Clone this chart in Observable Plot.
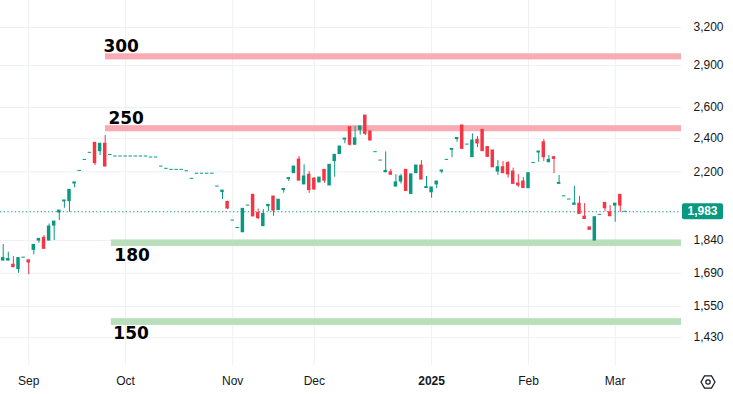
<!DOCTYPE html>
<html><head><meta charset="utf-8">
<script src="https://cdn.jsdelivr.net/npm/d3@7"></script>
<script src="https://cdn.jsdelivr.net/npm/@observablehq/plot@0.6"></script>
<style>
html,body{margin:0;padding:0;background:#fff;}
#chart{width:733px;height:394px;overflow:hidden;}
svg{display:block;}
</style></head><body><div id="chart"></div>
<script>
// ---- data (daily bars, indexed by trading-bar number) ----
const open = [1747,1747,1728,1709,1760,1748,1796,1840,1853,1840,
1913,1979,2037,2038,2134,2205,2269,2311,2372,2321,
2366,2298,2289,2289,2289,2289,2289,2289,2289,2283,
2283,2230,2217,2211,2211,2211,2203,2160,2189,2189,
2189,2189,2117,2087,2034,1938,1901,1880,2015,2072,
1976,1910,2012,2063,1992,2098,2159,2192,2271,2129,
2183,2161,2140,2211,2123,2262,2304,2392,2470,2360,
2453,2546,2443,2315,2265,2197,2197,2117,2145,2211,
2077,2192,2236,2109,2086,2129,2201,2269,2329,2395,
2481,2361,2285,2390,2453,2346,2325,2201,2226,2250,
2201,2134,2145,2108,2251,2313,2375,2255,2285,2132,
2064,2047,2019,2025,1958,1904,1840,1967,2029,1980,
2015,2072,1983];
const high = [1821,1785,1765,1760,1760,1749,1820,1848,1864,1921,
1933,1989,2042,2099,2140,2205,2269,2311,2372,2366,
2417,2298,2289,2289,2289,2289,2289,2289,2289,2283,
2283,2230,2217,2211,2211,2211,2203,2160,2189,2189,
2189,2189,2117,2095,2038,1938,1901,1998,2015,2072,
1997,1994,2019,2063,2046,2104,2164,2230,2289,2240,
2201,2167,2167,2211,2240,2299,2349,2398,2470,2475,
2475,2546,2443,2315,2265,2317,2213,2183,2185,2211,
2185,2236,2265,2173,2112,2145,2207,2269,2335,2402,
2481,2361,2428,2411,2453,2349,2325,2265,2259,2259,
2221,2185,2167,2192,2251,2319,2392,2295,2289,2179,
2064,2047,2119,2064,2025,1904,1955,1967,2029,2015,
2025,2072,1983];
const low = [1745,1745,1715,1690,1760,1684,1773,1827,1800,1838,
1840,1938,2001,1980,2110,2205,2269,2311,2236,2295,
2228,2298,2289,2289,2289,2289,2289,2289,2289,2283,
2283,2230,2217,2211,2211,2211,2203,2160,2189,2189,
2189,2189,2117,2047,1994,1938,1901,1880,2015,1959,
1943,1910,1984,1960,1992,2081,2145,2192,2150,2129,
2080,2098,2140,2135,2123,2169,2304,2366,2352,2360,
2420,2417,2386,2315,2265,2197,2183,2117,2131,2093,
2077,2192,2156,2109,2054,2106,2189,2269,2282,2375,
2335,2361,2285,2343,2321,2285,2226,2179,2192,2164,
2132,2112,2109,2108,2251,2255,2259,2255,2189,2132,
2064,2047,2019,1972,1946,1892,1840,1967,1984,1960,
1930,1980,1983];
const close = [1758,1754,1717,1758,1760,1738,1819,1848,1801,1908,
1933,1989,2042,2099,2140,2205,2269,2311,2250,2366,
2230,2298,2289,2289,2289,2289,2289,2289,2289,2283,
2283,2230,2217,2211,2211,2211,2203,2160,2189,2189,
2189,2189,2117,2095,2000,1938,1901,1998,2015,1959,
1950,1972,2019,1989,2046,2104,2164,2230,2150,2173,
2098,2101,2167,2150,2240,2299,2349,2398,2360,2400,
2475,2428,2386,2315,2265,2205,2183,2140,2173,2093,
2185,2236,2156,2114,2112,2145,2207,2269,2335,2402,
2335,2361,2386,2368,2321,2287,2226,2226,2192,2185,
2132,2123,2109,2192,2251,2319,2285,2269,2275,2137,
2064,2047,2026,1972,1946,1892,1955,1967,2001,1960,
2025,2015,1983];

const monthBars   = [5, 24, 45, 61, 84, 103, 120];
const monthLabels = ["Sep","Oct","Nov","Dec","2025","Feb","Mar"];
const priceTicks  = [1430,1550,1690,1840,2200,2400,2600,2900,3200];

const bandLabels = ["300","250","180","150"];
const bandLow    = [2942, 2441, 1812, 1476];
const bandHigh   = [2989, 2480, 1843, 1502];
const bandStart  = [20.05, 20.05, 21.2, 21.2];
const bandKind   = ["resistance","resistance","support","support"];

// ---- build ----
const UP = "#089981", DOWN = "#f23645";
const BAND = {resistance:"#f8abb3", support:"#b8dfb9"};
const X_MAX = 133.0;
const bars = close.map((c,i)=>({i, o:open[i], h:high[i], l:low[i], c, up:c>=open[i]}));
const bands = bandLabels.map((lab,k)=>({label:lab, low:bandLow[k], high:bandHigh[k], start:bandStart[k], kind:bandKind[k]}));
const last = close[close.length-1];
const fmt = d3.format(",");
const labelDx = {"300":-2, "250":3, "180":3, "150":2};

const labelMarks = bands.map(b => Plot.text([b], {
  x:"start", y: b.kind==="resistance" ? "high" : "low",
  text:"label", textAnchor:"start",
  lineAnchor: b.kind==="resistance" ? "bottom" : "top",
  dy: b.kind==="resistance" ? -2 : 2, dx: labelDx[b.label],
  fontSize:17, fontWeight:"bold", fontFamily:"'DejaVu Sans', sans-serif", fill:"#000"
}));

const plot = Plot.plot({
  width:733, height:394,
  marginLeft:0, marginRight:52, marginTop:0, marginBottom:29,
  style:{fontFamily:"'Liberation Sans', Arial, sans-serif", fontSize:"12px", color:"#131722", background:"#ffffff"},
  x:{type:"linear", domain:[-0.53, X_MAX], axis:null},
  y:{type:"log", domain:[1330, 3433], axis:null},
  marks:[
    Plot.gridX(monthBars, {stroke:"#eef0f5", strokeOpacity:1}),
    Plot.gridY(priceTicks, {stroke:"#eef0f5", strokeOpacity:1}),
    Plot.rect(bands.filter(b=>b.kind==="resistance"), {x1:"start", x2:()=>X_MAX, y1:"low", y2:"high", fill:BAND.resistance}),
    Plot.rect(bands.filter(b=>b.kind==="support"), {x1:"start", x2:()=>X_MAX, y1:"low", y2:"high", fill:BAND.support}),
    ...labelMarks,
    Plot.ruleY([last], {stroke:UP, strokeWidth:1, strokeDasharray:"1.3,2.4"}),
    Plot.ruleX(bars, {x:"i", y1:"l", y2:"h", stroke:d=>d.up?UP:DOWN, strokeWidth:1}),
    Plot.rect(bars, {x1:d=>d.i-0.34, x2:d=>d.i+0.34, y1:"o", y2:"c", fill:d=>d.up?UP:DOWN, insetTop:-0.5, insetBottom:-0.5}),
    Plot.axisY(priceTicks, {anchor:"right", tickSize:0, tickPadding:12, tickFormat:fmt, fontSize:12, fill:"#131722"}),
    Plot.axisX(monthBars.filter((d,k)=>monthLabels[k]!=="2025"), {anchor:"bottom", tickSize:0, tickPadding:11, fontSize:12, fill:"#131722",
      tickFormat:d=>monthLabels[monthBars.indexOf(d)]}),
    Plot.axisX(monthBars.filter((d,k)=>monthLabels[k]==="2025"), {anchor:"bottom", tickSize:0, tickPadding:11, fontSize:12, fontWeight:"bold", fill:"#131722",
      tickFormat:d=>monthLabels[monthBars.indexOf(d)]})
  ]
});
document.getElementById("chart").appendChild(plot);

// last-price tag on the price scale
const svg = d3.select(plot);
const yLast = plot.scale("y").apply(last);
const g = svg.append("g");
g.append("rect").attr("x",682).attr("y",yLast-8).attr("width",41).attr("height",16).attr("rx",2).attr("fill",UP);
g.append("text").attr("x",702.5).attr("y",yLast).attr("dy","0.35em").attr("text-anchor","middle")
  .attr("fill","#fff").attr("font-weight","bold").attr("font-size",12).text(fmt(last));
// settings icon
const cx=708, cy=382, r=7;
const hex = d3.range(6).map(k=>{const a=Math.PI/3*k; return [cx+r*Math.cos(a), cy+r*Math.sin(a)];});
svg.append("path").attr("d","M"+hex.map(p=>p.join(",")).join("L")+"Z").attr("fill","none").attr("stroke","#131722").attr("stroke-width",1.2);
svg.append("circle").attr("cx",cx).attr("cy",cy).attr("r",2.2).attr("fill","none").attr("stroke","#131722").attr("stroke-width",1.2);
</script>
</body></html>
